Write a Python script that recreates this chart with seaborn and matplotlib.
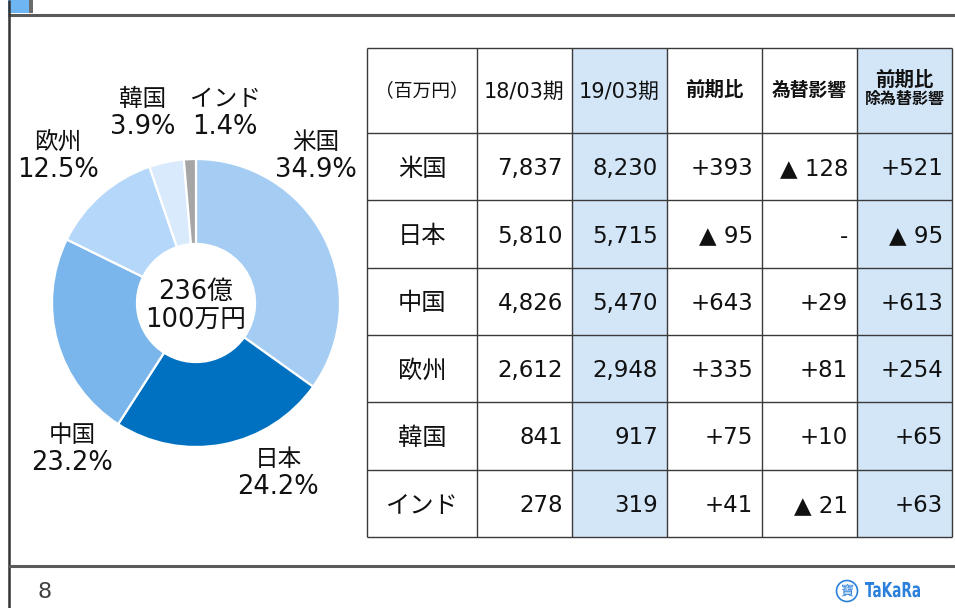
#!/usr/bin/env python3
"""
Regional sales slide: doughnut chart of FY19/03 sales share plus comparison table.
"""

import matplotlib
matplotlib.use('Agg')
import matplotlib.pyplot as plt
import matplotlib.transforms as mtransforms
from matplotlib.patches import Rectangle, Circle, PathPatch
from matplotlib.textpath import TextPath
from matplotlib.font_manager import FontProperties
import seaborn as sns

# Data (百万円)
REGIONS = ['米国', '日本', '中国', '欧州', '韓国', 'インド']
SALES_FY18 = [7837, 5810, 4826, 2612, 841, 278]
SALES_FY19 = [8230, 5715, 5470, 2948, 917, 319]
YOY_DIFF = [393, -95, 643, 335, 75, 41]
FX_IMPACT = [-128, 0, 29, 81, 10, -21]
YOY_EX_FX = [521, -95, 613, 254, 65, 63]
HEADERS = ['（百万円）', '18/03期', '19/03期', '前期比', '為替影響', '前期比\n除為替影響']
CENTER_TEXT = '236億\n100万円'
PAGE_NO = '8'
LOGO_TEXT = 'TaKaRa'

# Colors
PIE_COLORS = ['#a5cdf3', '#0070c0', '#7ab5ec', '#b5d8fa', '#d9eafc', '#a6a6a6']
SHADE = '#d3e6f8'
GRID = '#3a3a3a'
LOGO_BLUE = '#2b80dc'

# Layout, in pixels of the 955x608 canvas
W, H = 955, 608
PIE_CENTER = (196, 303)
PIE_RADIUS = 144
HOLE_FRAC = 0.41
LABEL_XY = [(316, 156), (278, 473), (72, 449), (58, 156), (143, 113), (225, 113)]
COL_EDGES = [367, 477, 572, 667, 762, 857, 952]
ROW_EDGES = [48, 133, 200, 268, 335, 402, 470, 537]
SHADED_COLS = [2, 5]


def fmt_signed(v):
    if v > 0:
        return f'+{v:,}'
    if v < 0:
        return f'▲ {abs(v):,}'
    return '-'


sns.set_theme(style='white')
plt.rcParams['font.family'] = ['DejaVu Sans', 'Noto Sans CJK JP']
plt.rcParams['text.color'] = '#111111'

fig = plt.figure(figsize=(W / 100, H / 100), dpi=100)
fig.patch.set_facecolor('white')

# Full-canvas axes in pixel coordinates for the slide furniture and table
bg = fig.add_axes([0, 0, 1, 1])
bg.set_xlim(0, W)
bg.set_ylim(H, 0)
bg.axis('off')

# Slide frame
bg.add_patch(Rectangle((8, 0), 21, 13, facecolor='#6db5f3', edgecolor='none'))
bg.add_patch(Rectangle((29, 0), 4, 13, facecolor='#6b6b6b', edgecolor='none'))
bg.hlines(15, 8, W, color='#595959', lw=2.2)
bg.vlines(9, 0, H, color='#333333', lw=1.8)
bg.hlines(566, 8, W, color='#5a5a5a', lw=2.2)
bg.text(45, 592, PAGE_NO, ha='center', va='center', fontsize=16, color='#404040')

# Logo: circled 寶 mark and a horizontally squeezed word mark
bg.add_patch(Circle((847, 591), 10.5, facecolor='white', edgecolor=LOGO_BLUE, lw=1.2))
bg.text(847, 591, '寶', ha='center', va='center', fontsize=9.5, color=LOGO_BLUE,
        family=['Noto Sans CJK JP'])
tp = TextPath((0, 0), LOGO_TEXT, size=1,
              prop=FontProperties(family='DejaVu Sans', weight='bold'))
ext = tp.get_extents()
sx = 55 / ext.width
sy = 15 / 0.729
logo_tf = mtransforms.Affine2D().translate(-ext.x0, 0).scale(sx, -sy).translate(865, 597)
bg.add_patch(PathPatch(logo_tf.transform_path(tp), facecolor=LOGO_BLUE,
                       edgecolor='none'))

# Doughnut chart
cx, cy = PIE_CENTER
R = PIE_RADIUS
pie_ax = fig.add_axes([(cx - R) / W, (H - cy - R) / H, 2 * R / W, 2 * R / H])
pie_ax.pie(SALES_FY19, colors=sns.color_palette(PIE_COLORS), startangle=90,
           counterclock=False, radius=1,
           wedgeprops=dict(width=1 - HOLE_FRAC, edgecolor='white', linewidth=1.6))
pie_ax.set_xlim(-1, 1)
pie_ax.set_ylim(-1, 1)
pie_ax.set_aspect('equal')
pie_ax.axis('off')
pie_ax.text(0, -0.02, CENTER_TEXT, ha='center', va='center', fontsize=18.5,
            linespacing=1.05)

# Pie labels: region name above, share below
total = sum(SALES_FY19)
for name, val, (lx, ly) in zip(REGIONS, SALES_FY19, LABEL_XY):
    bg.text(lx, ly - 14, name, ha='center', va='center', fontsize=17)
    bg.text(lx, ly + 14, f'{val / total * 100:.1f}%', ha='center', va='center',
            fontsize=18.5)

# Table cell shading
for c in SHADED_COLS:
    x0, x1 = COL_EDGES[c], COL_EDGES[c + 1]
    bg.add_patch(Rectangle((x0, ROW_EDGES[0]), x1 - x0, ROW_EDGES[-1] - ROW_EDGES[0],
                           facecolor=SHADE, edgecolor='none'))

# Grid lines
bg.vlines(COL_EDGES, ROW_EDGES[0], ROW_EDGES[-1], color=GRID, lw=1.0)
bg.hlines(ROW_EDGES, COL_EDGES[0], COL_EDGES[-1], color=GRID, lw=1.0)

# Header row
hy = (ROW_EDGES[0] + ROW_EDGES[1]) / 2
col_mid = [(COL_EDGES[i] + COL_EDGES[i + 1]) / 2 for i in range(len(COL_EDGES) - 1)]
bg.text(col_mid[0], hy, HEADERS[0], ha='center', va='center', fontsize=13.5)
bg.text(col_mid[1], hy + 1, HEADERS[1], ha='center', va='center', fontsize=15)
bg.text(col_mid[2], hy + 1, HEADERS[2], ha='center', va='center', fontsize=15)
bg.text(col_mid[3], hy, HEADERS[3], ha='center', va='center', fontsize=14,
        fontweight='bold')
bg.text(col_mid[4], hy, HEADERS[4], ha='center', va='center', fontsize=13.5,
        fontweight='bold')
top, bottom = HEADERS[5].split('\n')
bg.text(col_mid[5], hy - 10, top, ha='center', va='center', fontsize=14,
        fontweight='bold')
bg.text(col_mid[5], hy + 9, bottom, ha='center', va='center', fontsize=11.5,
        fontweight='bold')

# Body rows
columns = [
    [f'{v:,}' for v in SALES_FY18],
    [f'{v:,}' for v in SALES_FY19],
    [fmt_signed(v) for v in YOY_DIFF],
    [fmt_signed(v) for v in FX_IMPACT],
    [fmt_signed(v) for v in YOY_EX_FX],
]
for r, name in enumerate(REGIONS):
    ry = (ROW_EDGES[r + 1] + ROW_EDGES[r + 2]) / 2 + 2
    bg.text(col_mid[0], ry, name, ha='center', va='center', fontsize=17.5)
    for c, col in enumerate(columns, start=1):
        bg.text(COL_EDGES[c + 1] - 9, ry, col[r], ha='right', va='center',
                fontsize=16.5)

plt.savefig('out.png', dpi=100)
plt.close()
